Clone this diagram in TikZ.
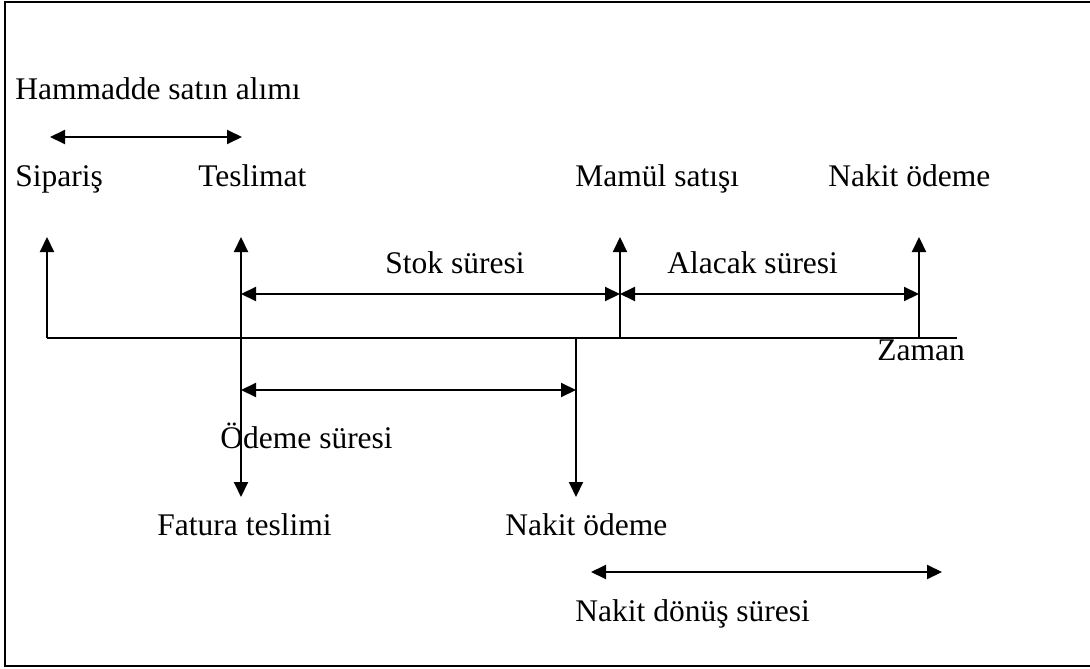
\documentclass[tikz,border=0pt]{standalone}
\usepackage{fontspec}
\setmainfont{Liberation Serif}
\usetikzlibrary{arrows.meta,positioning}

\begin{document}
\begin{tikzpicture}[x=0.5pt,y=-0.5pt,>={Triangle[length=7.5pt,width=7pt]},
  lbl/.style={anchor=base west,inner sep=0pt,font=\fontsize{15.75}{19}\selectfont},
  conn/.style={line width=1pt}]
\useasboundingbox (0,0) rectangle (1090,668);
\draw[line width=1pt] (1100,2) -- (5,2) -- (5,666) -- (1100,666);
% points on the time axis
\coordinate (sip) at (47,338);
\coordinate (tes) at (241,338);
\coordinate (odm) at (576,338);
\coordinate (mam) at (620,338);
\coordinate (nak) at (919,338);
\coordinate (son) at (957,338);
\draw[line width=1.3pt] (sip) -- (son);
\node[lbl] at (877,360) (zaman) {Zaman};
% events above the axis
\coordinate (sipup) at (47,237);
\coordinate (tesup) at (241,237);
\coordinate (mamup) at (620,237);
\coordinate (nakup) at (919,237);
\draw[conn,->] (sip) -- (sipup);
\draw[conn,->] (tes) -- (tesup);
\draw[conn,->] (mam) -- (mamup);
\draw[conn,->] (nak) -- (nakup);
\node[lbl] at (15,187) (siparis) {Sipariş};
\node[lbl] at (198,187) (teslimat) {Teslimat};
\node[lbl] at (575,187) (mamul) {Mamül satışı};
\node[lbl] at (828,187) (nakit1) {Nakit ödeme};
\node[lbl] at (15,100) (hammadde) {Hammadde satın alımı};
\coordinate (ham1) at (50,137);
\coordinate (ham2) at (242,137);
\draw[conn,<->] (ham1) -- (ham2);
% stock and receivable periods
\coordinate (stok1) at (241,294);
\coordinate (stok2) at (620,294);
\coordinate (alc2) at (919,294);
\draw[conn,<->] (stok1) -- (stok2);
\draw[conn,<->] (stok2) -- (alc2);
\node[lbl] at (385,273) (stok) {Stok süresi};
\node[lbl] at (667,273) (alacak) {Alacak süresi};
% events below the axis
\coordinate (tesdn) at (241,497);
\coordinate (odmdn) at (576,497);
\draw[conn,->] (tes) -- (tesdn);
\draw[conn,->] (odm) -- (odmdn);
\coordinate (ode1) at (241,390);
\coordinate (ode2) at (576,390);
\draw[conn,<->] (ode1) -- (ode2);
\node[lbl] at (220,448) (odeme) {Ödeme süresi};
\node[lbl] at (157,535) (fatura) {Fatura teslimi};
\node[lbl] at (505,535) (nakit2) {Nakit ödeme};
% cash conversion cycle
\coordinate (don1) at (591,572);
\coordinate (don2) at (942,572);
\draw[conn,<->] (don1) -- (don2);
\node[lbl] at (575,621) (donus) {Nakit dönüş süresi};
\end{tikzpicture}
\end{document}
